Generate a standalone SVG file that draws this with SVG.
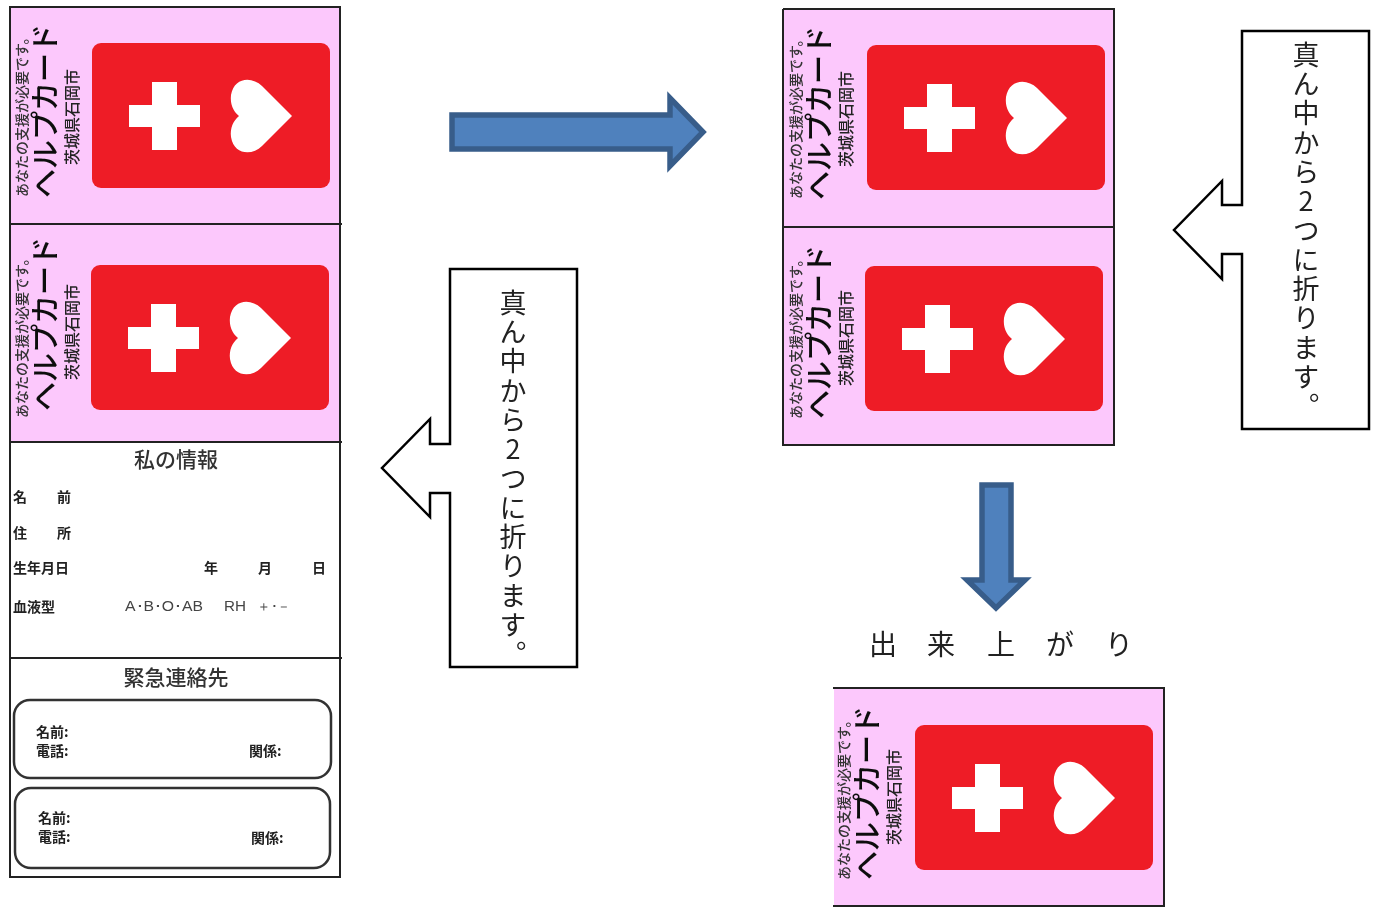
<svg xmlns="http://www.w3.org/2000/svg" xmlns:xlink="http://www.w3.org/1999/xlink" width="1373" height="907" viewBox="0 0 1373 907">
<style>
text{font-family:"Noto Sans CJK JP","Liberation Sans",sans-serif;fill:#111}
.bg{fill:#fcc8fc;stroke:none}
.edge{fill:none;stroke:#222;stroke-width:2}
.red{fill:#ee1c25}
.wh{fill:#fff}
.s1{font-size:14px;fill:#333;font-weight:500}
.s2{font-size:29px;fill:#111;font-weight:500}
.s3{font-size:16px;fill:#222;font-weight:500}
.soft{filter:url(#b)}
.call{fill:#fff;stroke:#000;stroke-width:2.5}
.vt{font-size:27px;letter-spacing:2.3px;writing-mode:vertical-rl;text-orientation:upright;font-weight:400;fill:#222}
.blue{fill:#4f81bd;stroke:#385d8a;stroke-width:5.5}
.h{font-size:21px;text-anchor:middle;fill:#333;font-weight:500}
.f{font-size:14px;font-weight:700;fill:#222}
.fl{font-size:14px;fill:#444;font-family:"Liberation Sans",sans-serif}
.box{fill:none;stroke:#333;stroke-width:2.5}
.done{font-size:28px;font-weight:400;fill:#222}
</style>
<defs>
<filter id="b" x="-5%" y="-5%" width="110%" height="110%"><feGaussianBlur stdDeviation="0.6"/></filter>
<g id="mark">
<rect class="red" x="92" y="43" width="238" height="145" rx="9"/>
<path class="wh" d="M152 82H177V105H200V127H177V150H152V127H129V105H152Z"/>
<path class="wh" d="M292 116L262 146C252 156 234 155 231 137C230 128 233 121 239 116C233 111 230 104 231 95C234 77 252 76 262 86Z"/>
</g>
</defs>

<g id="card-sheet">
<rect class="bg" x="10" y="8" width="330" height="434"/>
<g class="soft">
<use xlink:href="#mark"/>
<text class="s1" transform="translate(27,197) rotate(-90)">あなたの支援が必要です。</text>
<text class="s2" transform="translate(56,198) rotate(-90)">ヘルプカード</text>
<text class="s3" transform="translate(78,165) rotate(-90)">茨城県石岡市</text>
<use xlink:href="#mark" x="-1" y="222"/>
<text class="s1" transform="translate(27,418) rotate(-90)">あなたの支援が必要です。</text>
<text class="s2" transform="translate(56,411) rotate(-90)">ヘルプカード</text>
<text class="s3" transform="translate(78,380) rotate(-90)">茨城県石岡市</text>
<text class="h" x="176" y="467">私の情報</text>
<text class="f" x="13" y="502">名</text><text class="f" x="57" y="502">前</text>
<text class="f" x="13" y="538">住</text><text class="f" x="57" y="538">所</text>
<text class="f" x="13" y="573">生年月日</text>
<text class="f" x="204" y="573">年</text><text class="f" x="258" y="573">月</text><text class="f" x="312" y="573">日</text>
<text class="f" x="13" y="612">血液型</text>
<text class="fl" x="125" y="611" textLength="78" lengthAdjust="spacingAndGlyphs">A･B･O･AB</text><text class="fl" x="224" y="611" textLength="22" lengthAdjust="spacingAndGlyphs">RH</text><text class="fl" x="257" y="611" textLength="34" lengthAdjust="spacingAndGlyphs">＋･－</text>
<text class="h" x="176" y="685">緊急連絡先</text>
<rect class="box" x="14" y="700" width="317" height="78" rx="16"/>
<rect class="box" x="15" y="788" width="315" height="80" rx="16"/>
<text class="f" x="36" y="737">名前:</text><text class="f" x="36" y="756">電話:</text><text class="f" x="249" y="756">関係:</text>
<text class="f" x="38" y="823">名前:</text><text class="f" x="38" y="842">電話:</text><text class="f" x="251" y="843">関係:</text>
</g>
<path class="edge" d="M9 7H341M10 7V877M340 7V877M9 224H342M9 442H342M9 658H342M9 877H341"/>
</g>

<g id="card-folded">
<rect class="bg" x="783" y="9" width="331" height="436"/>
<g class="soft">
<use xlink:href="#mark" x="775" y="2"/>
<text class="s1" transform="translate(801,199) rotate(-90)">あなたの支援が必要です。</text>
<text class="s2" transform="translate(830,200) rotate(-90)">ヘルプカード</text>
<text class="s3" transform="translate(852,167) rotate(-90)">茨城県石岡市</text>
<use xlink:href="#mark" x="773" y="223"/>
<text class="s1" transform="translate(801,419) rotate(-90)">あなたの支援が必要です。</text>
<text class="s2" transform="translate(830,419) rotate(-90)">ヘルプカード</text>
<text class="s3" transform="translate(852,386) rotate(-90)">茨城県石岡市</text>
</g>
<path class="edge" d="M783 9H1114V445M783 9V446M783 227H1114M783 445H1115"/>
</g>

<g id="card-final">
<rect class="bg" x="834" y="688" width="330" height="218"/>
<g class="soft">
<use xlink:href="#mark" x="823" y="682"/>
<text class="s1" transform="translate(849,880) rotate(-90)">あなたの支援が必要です。</text>
<text class="s2" transform="translate(878,880) rotate(-90)">ヘルプカード</text>
<text class="s3" transform="translate(900,845) rotate(-90)">茨城県石岡市</text>
</g>
<path class="edge" d="M833 688H1164V907M833 906H1164"/>
</g>

<g id="callout-left">
<path class="call" d="M450 269H577V667H450V493H430V517L382 468L430 419V444H450Z"/>
<text class="vt" x="513" y="289">真ん中から2つに折ります。</text>
</g>
<g id="callout-right">
<path class="call" d="M1242 31H1369V429H1242V254H1222V279L1174 230L1222 181V205H1242Z"/>
<text class="vt" x="1306" y="41">真ん中から2つに折ります。</text>
</g>

<g id="connectors">
<path class="blue" d="M452 115H670V98L703 132L670 166V149H452Z"/>
<path class="blue" d="M982 485H1011V580H1025L996 608L967 580H982Z"/>
</g>

<g id="label-done">
<text class="done" x="869" y="655">出</text>
<text class="done" x="927" y="655">来</text>
<text class="done" x="987" y="655">上</text>
<text class="done" x="1046" y="655">が</text>
<text class="done" x="1105" y="655">り</text>
</g>
</svg>
